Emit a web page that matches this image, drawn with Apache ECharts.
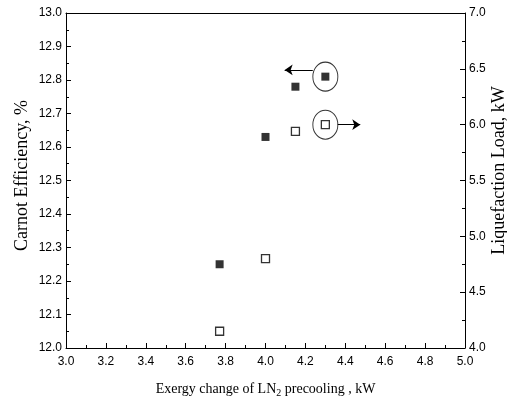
<!DOCTYPE html>
<html><head><meta charset="utf-8">
<script src="https://cdn.jsdelivr.net/npm/echarts@6/dist/echarts.min.js"></script>
<style>html,body{margin:0;padding:0;background:#fff}#c{width:507px;height:401px}</style>
</head><body><div id="c"></div>
<script>
const xValues = [3.77, 4.0, 4.15, 4.3];
const carnotEff = [12.25, 12.63, 12.78, 12.81];
const liqLoad = [4.15, 4.8, 5.94, 6.0];
// annotation anchors (ellipses around last points, arrows pointing to the axes)
const leftEllipse = [4.3, 12.81];
const rightEllipse = [4.3, 6.0];
const leftArrow = [[4.237, 12.83], [4.096, 12.83]];
const rightArrow = [[4.362, 6.0], [4.475, 6.0]];

const chart = echarts.init(document.getElementById('c'), null, {renderer: 'canvas'});
const tickFont = {fontFamily: 'Liberation Sans, Arial, sans-serif', fontSize: 12, color: '#000'};
const nameFont = {fontFamily: 'Liberation Serif, Times New Roman, serif', fontSize: 18, color: '#000'};
const xNameFont = {fontFamily: 'Liberation Serif, Times New Roman, serif', fontSize: 14, color: '#000'};
const tick = () => ({show: true, inside: true, length: 5, interval: 0, lineStyle: {color: '#000', width: 1}});
const minor = () => ({show: true, splitNumber: 2, length: 3, lineStyle: {color: '#000', width: 1}});
const line = () => ({show: true, onZero: false, lineStyle: {color: '#000', width: 1}});
chart.setOption({
  animation: false,
  grid: {left: 66, right: 42, top: 13, bottom: 53, outerBoundsMode: 'none', containLabel: false},
  xAxis: [{
    type: 'value', min: 3, max: 5, interval: 0.2, position: 'bottom',
    axisLine: line(), axisTick: tick(), minorTick: minor(),
    splitLine: {show: false},
    axisLabel: Object.assign({margin: 8, formatter: v => v.toFixed(1)}, tickFont),
    name: '{n|Exergy change of LN}{s|2}{n| precooling , kW}',
    nameLocation: 'middle', nameGap: 32,
    nameTextStyle: {rich: {n: xNameFont, s: {fontFamily: xNameFont.fontFamily, fontSize: 10, color: '#000', verticalAlign: 'bottom', padding: [8, 0, 0, 0]}}}
  }, {
    type: 'value', min: 3, max: 5, interval: 0.2, position: 'top',
    axisLine: line(), axisTick: {show: false}, axisLabel: {show: false}, splitLine: {show: false}
  }],
  yAxis: [{
    type: 'value', min: 12, max: 13, interval: 0.1, position: 'left',
    axisLine: line(), axisTick: tick(), minorTick: minor(),
    splitLine: {show: false},
    axisLabel: Object.assign({margin: 4, formatter: v => v.toFixed(1)}, tickFont),
    name: 'Carnot Efficiency, %', nameLocation: 'middle', nameGap: 35, nameRotate: 90,
    nameMoveOverlap: false,
    nameTextStyle: Object.assign({padding: [0, 0, 0, 10]}, nameFont)
  }, {
    type: 'value', min: 4, max: 7, interval: 0.5, position: 'right',
    axisLine: line(), axisTick: tick(), minorTick: minor(),
    splitLine: {show: false},
    axisLabel: Object.assign({margin: 4, formatter: v => v.toFixed(1)}, tickFont),
    name: 'Liquefaction Load, kW', nameLocation: 'middle', nameGap: 25, nameRotate: 90,
    nameMoveOverlap: false,
    nameTextStyle: Object.assign({padding: [0, 0, 0, 20]}, nameFont)
  }],
  series: [{
    type: 'scatter', yAxisIndex: 0, symbol: 'rect', symbolSize: 8,
    itemStyle: {color: '#000'},
    data: xValues.map((x, i) => [x, carnotEff[i]]),
    markLine: {
      silent: true, symbol: ['none', 'arrow'], symbolSize: 8,
      lineStyle: {color: '#000', width: 1, type: 'solid'}, label: {show: false},
      data: [[{coord: leftArrow[0]}, {coord: leftArrow[1]}]]
    }
  }, {
    type: 'scatter', yAxisIndex: 1, symbol: 'rect', symbolSize: 8,
    itemStyle: {color: '#fff', borderColor: '#000', borderWidth: 1.3},
    data: xValues.map((x, i) => [x, liqLoad[i]]),
    markLine: {
      silent: true, symbol: ['none', 'arrow'], symbolSize: 8,
      lineStyle: {color: '#000', width: 1, type: 'solid'}, label: {show: false},
      data: [[{coord: rightArrow[0]}, {coord: rightArrow[1]}]]
    }
  }, {
    type: 'scatter', yAxisIndex: 0, silent: true, symbol: 'circle', symbolSize: [25, 29],
    itemStyle: {color: 'rgba(0,0,0,0)', borderColor: '#000', borderWidth: 1},
    data: [leftEllipse], z: 1
  }, {
    type: 'scatter', yAxisIndex: 1, silent: true, symbol: 'circle', symbolSize: [25, 29],
    itemStyle: {color: 'rgba(0,0,0,0)', borderColor: '#000', borderWidth: 1},
    data: [rightEllipse], z: 1
  }]
});
</script></body></html>
